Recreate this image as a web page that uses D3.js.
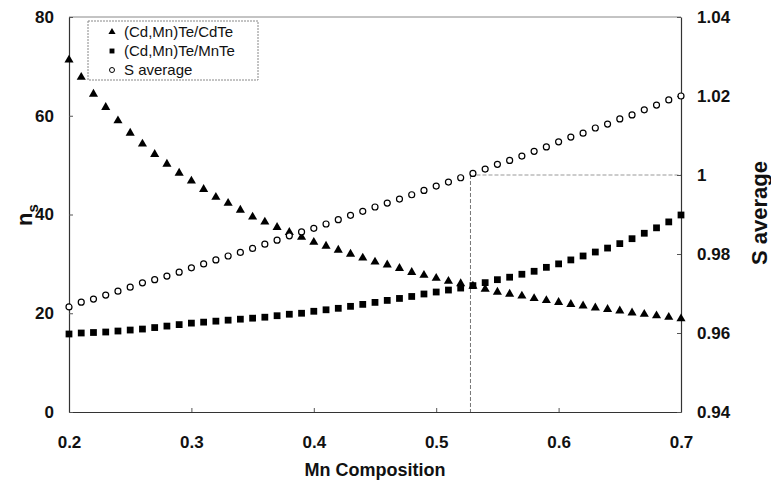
<!DOCTYPE html>
<html>
<head>
<meta charset="utf-8">
<script src="https://cdn.jsdelivr.net/npm/d3@7"></script>
<style>
  body { margin: 0; background: #fff; }
  text { font-family: "Liberation Sans", Arial, sans-serif; fill: #111; }
</style>
</head>
<body>
<svg id="chart" width="771" height="483"></svg>
<script>
// Mn composition (x)
const composition = [
  0.20, 0.21, 0.22, 0.23, 0.24, 0.25, 0.26, 0.27, 0.28, 0.29,
  0.30, 0.31, 0.32, 0.33, 0.34, 0.35, 0.36, 0.37, 0.38, 0.39,
  0.40, 0.41, 0.42, 0.43, 0.44, 0.45, 0.46, 0.47, 0.48, 0.49,
  0.50, 0.51, 0.52, 0.53, 0.54, 0.55, 0.56, 0.57, 0.58, 0.59,
  0.60, 0.61, 0.62, 0.63, 0.64, 0.65, 0.66, 0.67, 0.68, 0.69, 0.70
];
// n_s for (Cd,Mn)Te/CdTe
const nsCdTe = [
  71.3, 67.8, 64.4, 61.7, 59.0, 56.5, 54.3, 52.2, 50.2, 48.4,
  46.8, 45.1, 43.5, 42.3, 40.9, 39.5, 38.5, 37.4, 36.4, 35.4,
  34.4, 33.6, 32.8, 32.0, 31.2, 30.4, 29.8, 29.1, 28.3, 27.7,
  27.1, 26.5, 26.0, 25.5, 24.9, 24.3, 23.9, 23.5, 23.0, 22.6,
  22.2, 21.8, 21.5, 21.1, 20.8, 20.5, 20.1, 19.8, 19.5, 19.2, 18.9
];
// n_s for (Cd,Mn)Te/MnTe
const nsMnTe = [
  15.8, 16.0, 16.1, 16.2, 16.4, 16.6, 16.8, 17.1, 17.4, 17.7,
  18.0, 18.2, 18.4, 18.6, 18.8, 19.0, 19.2, 19.5, 19.8, 20.0,
  20.4, 20.7, 21.0, 21.4, 21.8, 22.2, 22.6, 23.0, 23.4, 23.9,
  24.3, 24.7, 25.1, 25.6, 26.2, 26.8, 27.3, 27.9, 28.5, 29.3,
  30.0, 30.8, 31.6, 32.4, 33.2, 34.1, 35.1, 36.2, 37.3, 38.5, 39.9
];
// S average (right axis)
const sAverage = [
  0.9666, 0.9678, 0.9686, 0.9696, 0.9706, 0.9716, 0.9727, 0.9735, 0.9744, 0.9754,
  0.9765, 0.9775, 0.9785, 0.9795, 0.9804, 0.9814, 0.9825, 0.9835, 0.9846, 0.9856,
  0.9865, 0.9876, 0.9887, 0.9898, 0.9908, 0.9919, 0.9929, 0.9939, 0.9950, 0.9961,
  0.9972, 0.9982, 0.9993, 1.0004, 1.0015, 1.0027, 1.0037, 1.0048, 1.0060, 1.0071,
  1.0084, 1.0096, 1.0106, 1.0119, 1.0129, 1.0142, 1.0152, 1.0165, 1.0177, 1.0190, 1.0200
];
const xTicks = [0.2, 0.3, 0.4, 0.5, 0.6, 0.7];
const leftTicks = [0, 20, 40, 60, 80];
const rightTicks = [0.94, 0.96, 0.98, 1.00, 1.02, 1.04];
const legendLabels = ['(Cd,Mn)Te/CdTe', '(Cd,Mn)Te/MnTe', 'S average'];
const crossing = 0.528; // composition where S average = 1

const margin = { top: 17, right: 90, bottom: 71, left: 69 };
const width = 771 - margin.left - margin.right;
const height = 483 - margin.top - margin.bottom;

const x = d3.scaleLinear().domain([0.2, 0.7]).range([0, width]);
const yL = d3.scaleLinear().domain([0, 80]).range([height, 0]);
const yR = d3.scaleLinear().domain([0.94, 1.04]).range([height, 0]);

const svg = d3.select('#chart');
const g = svg.append('g').attr('transform', `translate(${margin.left},${margin.top})`);

// frame top (light)
g.append('line')
  .attr('x1', 0).attr('x2', width).attr('y1', 0).attr('y2', 0)
  .attr('stroke', '#888').attr('stroke-width', 1);

// reference dashed lines at S = 1
g.append('line')
  .attr('x1', x(crossing)).attr('x2', x(crossing))
  .attr('y1', yR(1)).attr('y2', height)
  .attr('stroke', '#777').attr('stroke-dasharray', '4,2');
g.append('line')
  .attr('x1', x(crossing)).attr('x2', width)
  .attr('y1', yR(1)).attr('y2', yR(1))
  .attr('stroke', '#999').attr('stroke-dasharray', '4,2');

function styleAxis(sel) {
  sel.select('.domain').attr('stroke', '#333').attr('stroke-width', 1.2);
  sel.selectAll('.tick line').attr('stroke', '#555');
  sel.selectAll('.tick text')
    .style('font-size', '17px').style('font-weight', 'bold')
    .attr('fill', '#111');
}

g.append('g')
  .attr('transform', `translate(0,${height})`)
  .call(d3.axisBottom(x).tickValues(xTicks).tickSize(-4).tickSizeOuter(0)
    .tickPadding(24).tickFormat(d3.format('.1f')))
  .call(styleAxis);

g.append('g')
  .call(d3.axisLeft(yL).tickValues(leftTicks).tickSize(-4).tickSizeOuter(0)
    .tickPadding(15))
  .call(styleAxis);

g.append('g')
  .attr('transform', `translate(${width},0)`)
  .call(d3.axisRight(yR).tickValues(rightTicks).tickSize(-4).tickSizeOuter(0)
    .tickPadding(16).tickFormat(d => String(+d.toFixed(2))))
  .call(styleAxis);

// markers
const tri = d3.symbol().type(d3.symbolTriangle).size(36);
const sq = d3.symbol().type(d3.symbolSquare).size(46);

g.append('g').selectAll('path')
  .data(composition.map((c, i) => [c, nsCdTe[i]]))
  .join('path')
  .attr('d', tri)
  .attr('transform', d => `translate(${x(d[0])},${yL(d[1])})`)
  .attr('fill', '#000');

g.append('g').selectAll('path')
  .data(composition.map((c, i) => [c, nsMnTe[i]]))
  .join('path')
  .attr('d', sq)
  .attr('transform', d => `translate(${x(d[0])},${yL(d[1])})`)
  .attr('fill', '#000');

g.append('g').selectAll('circle')
  .data(composition.map((c, i) => [c, sAverage[i]]))
  .join('circle')
  .attr('cx', d => x(d[0]))
  .attr('cy', d => yR(d[1]))
  .attr('r', 3)
  .attr('fill', '#fff')
  .attr('stroke', '#000')
  .attr('stroke-width', 1.2);

// legend
const lg = svg.append('g').attr('transform', 'translate(88,21)');
lg.append('rect')
  .attr('width', 170).attr('height', 59)
  .attr('fill', '#fff')
  .attr('stroke', '#888')
  .attr('stroke-dasharray', '2,1');
const rows = lg.selectAll('g.row')
  .data(legendLabels)
  .join('g')
  .attr('class', 'row')
  .attr('transform', (d, i) => `translate(0,${11 + i * 19})`);
rows.filter((d, i) => i === 0).append('path')
  .attr('d', d3.symbol().type(d3.symbolTriangle).size(22))
  .attr('transform', 'translate(24,0)');
rows.filter((d, i) => i === 1).append('path')
  .attr('d', d3.symbol().type(d3.symbolSquare).size(24))
  .attr('transform', 'translate(24,0)');
rows.filter((d, i) => i === 2).append('circle')
  .attr('cx', 24).attr('r', 2.5)
  .attr('fill', '#fff').attr('stroke', '#000');
rows.append('text')
  .attr('x', 36).attr('y', 5)
  .style('font-size', '15px')
  .text(d => d);

// axis titles
svg.append('text')
  .attr('x', margin.left + width / 2)
  .attr('y', 476)
  .attr('text-anchor', 'middle')
  .style('font-size', '18px').style('font-weight', 'bold')
  .text('Mn Composition');

const yTitle = svg.append('text')
  .attr('transform', 'translate(32,215) rotate(-90)')
  .attr('text-anchor', 'middle')
  .style('font-size', '22px').style('font-weight', 'bold');
yTitle.append('tspan').text('n');
yTitle.append('tspan').attr('dy', 6).style('font-size', '15px').text('s');

svg.append('text')
  .attr('transform', 'translate(767,213) rotate(-90)')
  .attr('text-anchor', 'middle')
  .style('font-size', '22px').style('font-weight', 'bold')
  .text('S average');
</script>
</body>
</html>
